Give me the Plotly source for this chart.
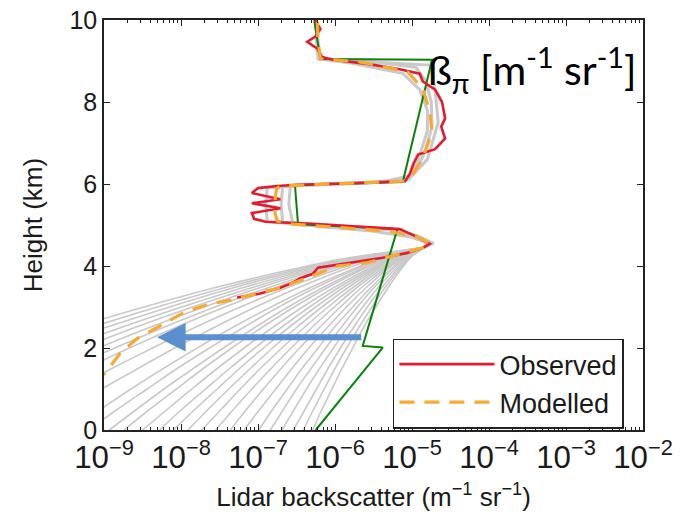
import plotly.graph_objects as go

# ---------------- data (log10 of backscatter, heights in km) ----------------
GRAY_Z = [4.45, 4.2, 4.0, 3.5, 3.0, 2.5, 2.0, 1.5, 1.0, 0.5, 0.0]
GRAY_LOG = [
    [-4.85, -5.82, -6.36, -7.50, -8.48, -9.39],
    [-4.85, -5.78, -6.29, -7.37, -8.31, -9.17],
    [-4.85, -5.74, -6.22, -7.26, -8.15, -8.98, -9.75],
    [-4.85, -5.69, -6.16, -7.14, -7.99, -8.78, -9.51],
    [-4.85, -5.65, -6.10, -7.03, -7.85, -8.60, -9.29],
    [-4.85, -5.61, -6.04, -6.93, -7.70, -8.41, -9.08, -9.71],
    [-4.85, -5.58, -5.98, -6.82, -7.56, -8.23, -8.86, -9.46],
    [-4.85, -5.54, -5.92, -6.73, -7.43, -8.07, -8.67, -9.24],
    [-4.85, -5.49, -5.84, -6.58, -7.23, -7.82, -8.37, -8.90, -9.41],
    [-4.85, -5.43, -5.76, -6.44, -7.03, -7.57, -8.08, -8.56, -9.03, -9.47],
    [-4.85, -5.38, -5.67, -6.29, -6.83, -7.33, -7.79, -8.23, -8.65, -9.05, -9.45],
    [-4.85, -5.35, -5.63, -6.22, -6.73, -7.19, -7.63, -8.05, -8.44, -8.83, -9.20],
    [-4.85, -5.32, -5.58, -6.13, -6.61, -7.04, -7.45, -7.84, -8.22, -8.58, -8.93],
    [-4.85, -5.30, -5.55, -6.07, -6.53, -6.95, -7.34, -7.71, -8.06, -8.41, -8.74],
    [-4.85, -5.27, -5.50, -5.99, -6.42, -6.81, -7.18, -7.53, -7.86, -8.18, -8.50],
    [-4.85, -5.25, -5.46, -5.93, -6.33, -6.70, -7.04, -7.37, -7.68, -7.99, -8.28],
    [-4.85, -5.23, -5.43, -5.87, -6.25, -6.60, -6.93, -7.24, -7.53, -7.82, -8.10],
    [-4.85, -5.20, -5.40, -5.81, -6.17, -6.50, -6.81, -7.10, -7.38, -7.65, -7.91],
    [-4.85, -5.18, -5.37, -5.75, -6.09, -6.40, -6.69, -6.97, -7.23, -7.48, -7.73],
    [-4.85, -5.16, -5.33, -5.70, -6.01, -6.30, -6.57, -6.83, -7.08, -7.32, -7.55],
    [-4.85, -5.14, -5.30, -5.64, -5.93, -6.20, -6.46, -6.70, -6.93, -7.15, -7.36],
    [-4.85, -5.12, -5.27, -5.58, -5.85, -6.10, -6.34, -6.56, -6.77, -6.98, -7.18],
    [-4.85, -5.10, -5.23, -5.52, -5.77, -6.01, -6.22, -6.43, -6.62, -6.81, -6.99],
    [-4.85, -5.08, -5.21, -5.48, -5.71, -5.92, -6.12, -6.31, -6.50, -6.67, -6.84],
    [-4.85, -5.06, -5.18, -5.43, -5.64, -5.84, -6.02, -6.20, -6.37, -6.53, -6.69],
    [-4.85, -5.04, -5.15, -5.38, -5.58, -5.76, -5.93, -6.09, -6.24, -6.39, -6.54],
    [-4.85, -5.03, -5.13, -5.34, -5.52, -5.69, -5.85, -6.00, -6.14, -6.28, -6.41],
    [-4.85, -5.02, -5.11, -5.30, -5.47, -5.63, -5.77, -5.91, -6.04, -6.17, -6.29],
]

UPPER_Z = [
    [4.45, 4.55, 4.75, 4.9, 5.0, 5.06, 5.5, 5.95, 6.02, 6.1, 6.6, 7.5, 8.3, 8.9, 8.98, 9.05, 9.5, 10.0],
    [4.45, 4.55, 4.72, 4.88, 5.0, 5.07, 5.5, 5.93, 6.01, 6.08, 6.3, 6.8, 7.4, 8.0, 8.5, 8.85, 9.0, 9.06, 9.5, 10.0],
    [4.45, 4.55, 4.7, 4.85, 4.98, 5.08, 5.5, 5.9, 5.98, 6.05, 6.2, 6.7, 7.3, 7.8, 8.3, 8.7, 8.95, 9.05, 9.5, 10.0],
]
UPPER_LOG = [
    [-4.85, -4.72, -4.95, -5.25, -6.2, -6.55, -6.6, -6.58, -5.6, -5.05, -4.80, -4.66, -4.70, -4.76, -5.6, -6.2, -6.22, -6.24],
    [-4.85, -4.74, -4.95, -5.3, -6.1, -6.68, -6.7, -6.68, -6.0, -5.1, -4.95, -4.83, -4.74, -4.75, -4.82, -4.95, -5.6, -6.2, -6.23, -6.24],
    [-4.85, -4.8, -5.0, -5.5, -6.3, -6.88, -6.9, -6.88, -6.4, -5.4, -5.02, -4.9, -4.8, -4.8, -4.9, -5.12, -5.8, -6.22, -6.24, -6.25],
]

GREEN_Z = [0.0, 2.01, 2.05, 4.9, 5.02, 5.97, 6.05, 9.03, 9.05, 10.0]
GREEN_LOG = [-6.25, -5.38, -5.64, -5.19, -6.48, -6.52, -5.12, -4.74, -6.19, -6.27]

OBS_Z = [3.23, 3.30, 3.33, 3.47, 3.59, 3.70, 3.81, 3.96, 4.08, 4.20, 4.32, 4.45, 4.54,
         4.70, 4.90, 5.03, 5.08, 5.15, 5.29, 5.41, 5.53, 5.63, 5.78, 5.90, 5.95, 5.98,
         6.02, 6.07, 6.24, 6.50, 6.72, 6.85, 7.11, 7.40, 7.60, 8.00, 8.30, 8.50, 8.69,
         8.80, 8.93, 9.03, 9.10, 9.30, 9.47, 9.60, 9.78, 10.0]
OBS_LOG = [-7.27, -7.05, -6.97, -6.71, -6.55, -6.45, -6.29, -6.22, -5.77, -5.38, -5.06, -4.85, -4.77,
           -4.92, -5.16, -6.30, -6.90, -7.05, -7.08, -6.71, -7.08, -6.71, -7.08, -7.00, -6.75, -6.50,
           -5.80, -5.09, -5.03, -4.98, -4.92, -4.70, -4.57, -4.62, -4.57, -4.61, -4.70, -4.86, -4.90,
           -5.16, -5.58, -6.03, -6.17, -6.23, -6.36, -6.25, -6.19, -6.26]

MOD_Z = [1.2, 1.38, 1.87, 2.23, 2.5, 2.86, 3.08, 3.18, 3.35, 3.47, 3.76, 4.0, 4.08, 4.3, 4.45,
         4.55, 4.7, 4.85, 4.95, 5.02, 5.1, 5.3, 5.6, 5.88, 5.95, 6.0, 6.07, 6.24, 6.63, 7.28,
         7.77, 8.33, 8.74, 8.98, 9.05, 9.5, 10.0]
MOD_LOG = [-9.15, -8.99, -8.79, -8.57, -8.31, -7.97, -7.62, -7.32, -6.97, -6.71, -6.29, -5.97, -5.58, -5.16, -4.85,
           -4.76, -4.92, -5.3, -6.0, -6.55, -6.75, -6.78, -6.78, -6.76, -6.71, -6.1, -5.12, -4.99, -4.86, -4.74,
           -4.77, -4.86, -5.06, -5.68, -6.19, -6.22, -6.23]

ARROW_Y = 2.26
ARROW_TAIL_LOG = -5.64
ARROW_TIP_LOG = -8.31

# ---------------- figure ----------------
FONT = "Liberation Sans, Arial, sans-serif"
GRAY = "#c9c9c9"

fig = go.Figure()

for vals in GRAY_LOG:
    fig.add_trace(go.Scatter(
        x=[10 ** v for v in vals], y=GRAY_Z[:len(vals)], mode="lines",
        line=dict(color=GRAY, width=1.6, shape="spline", smoothing=0.8),
        showlegend=False, hoverinfo="skip"))

for zs, vals in zip(UPPER_Z, UPPER_LOG):
    fig.add_trace(go.Scatter(
        x=[10 ** v for v in vals], y=zs, mode="lines",
        line=dict(color=GRAY, width=3),
        showlegend=False, hoverinfo="skip"))

fig.add_trace(go.Scatter(
    x=[10 ** v for v in GREEN_LOG], y=GREEN_Z, mode="lines",
    line=dict(color="#0a820a", width=2), showlegend=False))

fig.add_trace(go.Scatter(
    x=[10 ** v for v in OBS_LOG], y=OBS_Z, mode="lines", name="Observed",
    line=dict(color="#e31b2e", width=2.6)))

fig.add_trace(go.Scatter(
    x=[10 ** v for v in MOD_LOG], y=MOD_Z, mode="lines", name="Modelled",
    line=dict(color="#f6aa33", width=3.2, dash="15px,10px")))

fig.add_annotation(
    x=ARROW_TIP_LOG, y=ARROW_Y, ax=ARROW_TAIL_LOG, ay=ARROW_Y,
    xref="x", yref="y", axref="x", ayref="y", text="",
    showarrow=True, arrowhead=2, arrowsize=0.95, arrowwidth=6,
    arrowcolor="#5b8fd0", standoff=0, startstandoff=0)

fig.add_annotation(
    x=0.598, y=0.877, xref="paper", yref="paper", xanchor="left", yanchor="middle",
    text="ß<sub>π</sub> [m<sup>-1</sup> sr<sup>-1</sup>]", showarrow=False,
    font=dict(family="Lato, Open Sans, sans-serif", size=41, color="#000000"))

axis_common = dict(
    showline=True, linecolor="#222222", linewidth=1.5, mirror="ticks",
    ticks="inside", ticklen=6, tickcolor="#222222", tickwidth=1.2,
    showgrid=False, zeroline=False, automargin=False,
    ticklabeloverflow="allow",
    tickfont=dict(family=FONT, size=25, color="#1a1a1a"),
)

fig.update_xaxes(
    type="log", range=[-9, -2], dtick=1, tick0=0, exponentformat="power",
    minor=dict(ticks="inside", ticklen=3, tickcolor="#222222", dtick="D1", showgrid=False),
    title=dict(text="Lidar backscatter (m<sup>−1</sup> sr<sup>−1</sup>)",
               font=dict(family=FONT, size=26, color="#1a1a1a"), standoff=14),
    **axis_common)

fig.update_yaxes(
    range=[0, 10], dtick=2, tick0=0,
    title=dict(text="Height (km)", font=dict(family=FONT, size=26, color="#1a1a1a"), standoff=19),
    **axis_common)

fig.update_layout(
    width=681, height=513,
    margin=dict(l=96, r=46, t=12, b=91, autoexpand=False),
    paper_bgcolor="white", plot_bgcolor="white",
    font=dict(family=FONT, size=26, color="#1a1a1a"),
    legend=dict(x=0.536, y=0.223, xanchor="left", yanchor="top",
                bgcolor="white", bordercolor="#222222", borderwidth=1.5,
                font=dict(family=FONT, size=27, color="#1a1a1a"),
                itemwidth=95, tracegroupgap=0),
)

fig.write_html("out.html")
